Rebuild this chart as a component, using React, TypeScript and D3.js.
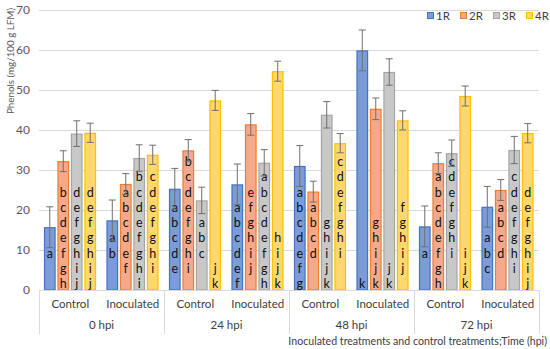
import React, { useEffect, useRef } from "react"
import * as d3 from "d3"

const groups = ["0 hpi", "24 hpi", "48 hpi", "72 hpi"]
const treatments = ["Control", "Inoculated"]
const series = ["1R", "2R", "3R", "4R"]
const yTicks = [0, 10, 20, 30, 40, 50, 60, 70]

// means, in category order 0C, 0I, 24C, 24I, 48C, 48I, 72C, 72I
const r1 = [15.7, 17.4, 25.3, 26.4, 31.0, 59.9, 15.9, 20.8]
const r2 = [32.2, 26.5, 34.9, 41.4, 24.6, 45.3, 31.7, 25.0]
const r3 = [39.1, 33.0, 22.4, 31.8, 43.8, 54.5, 34.2, 35.0]
const r4 = [39.3, 33.8, 47.4, 54.7, 36.7, 42.4, 48.5, 39.2]

// error bar half widths
const e1 = [5.1, 5.1, 5.1, 5.1, 5.1, 5.1, 5.1, 5.1]
const e2 = [2.6, 2.6, 2.7, 2.7, 2.6, 2.7, 2.6, 2.6]
const e3 = [3.2, 3.3, 3.3, 3.3, 3.3, 3.3, 3.3, 3.4]
const e4 = [2.4, 2.4, 2.5, 2.5, 2.4, 2.4, 2.5, 2.4]

// significance letters, one letter per line, a space is an empty line (labels sit on the base)
const l1 = ["a  ", "ab  ", "abcde ", "abcdef", "abcdefg", "k", "a  ", "abc "]
const l2 = ["bcdefgh", "abcdef ", "bcdefghi ", "efghij ", "abcd  ", "ghijk", "abcdefgh", "abcd  "]
const l3 = ["defghij", "bcdefghi", "abc  ", "abcdefgh", "ghijk", "jk", "cdefghi  ", "cdefghi "]
const l4 = ["defghij", "cdefghi ", "jk", "hijk", "cdefghi  ", "fghij ", "ijk", "defghij"]

const fills = ["#7b9cd7", "#f5a98a", "#c8c8c8", "#ffd76e"]
const strokes = ["#4472c4", "#ed7d31", "#a5a5a5", "#ffc000"]

const W = 550
const H = 349
const FONT = "Lato, 'Open Sans', sans-serif"

export default function App() {
    const ref = useRef<SVGSVGElement>(null)

    useEffect(() => {
        const svg = d3.select(ref.current)
        svg.selectAll("*").remove()

        const left = 39, right = 539, top = 10, bottom = 290
        const cats: string[] = []
        groups.forEach(g => treatments.forEach(t => cats.push(g + "|" + t)))

        const means = [r1, r2, r3, r4]
        const errs = [e1, e2, e3, e4]
        const labels = [l1, l2, l3, l4]

        const x0 = d3.scaleBand().domain(cats).range([left, right])
        const x1 = d3
            .scaleBand()
            .domain(series)
            .range([5, x0.bandwidth() - 5.5])
            .paddingInner(0.14)
        const y = d3.scaleLinear().domain([0, 70]).range([bottom, top])

        svg.append("rect").attr("width", W).attr("height", H).attr("fill", "#fff")

        // gridlines
        svg.append("g")
            .selectAll("line")
            .data(yTicks)
            .enter()
            .append("line")
            .attr("x1", left)
            .attr("x2", right)
            .attr("y1", d => Math.round(y(d)) + 0.5)
            .attr("y2", d => Math.round(y(d)) + 0.5)
            .attr("stroke", "#d9d9d9")

        svg.append("g")
            .selectAll("text")
            .data(yTicks)
            .enter()
            .append("text")
            .attr("x", 30)
            .attr("y", d => y(d))
            .attr("dy", "0.35em")
            .attr("text-anchor", "end")
            .attr("font-size", 12)
            .attr("fill", "#595959")
            .text(d => d)

        svg.append("text")
            .attr("transform", "translate(11,61) rotate(-90)")
            .attr("text-anchor", "middle")
            .attr("dy", "0.35em")
            .attr("font-size", 9.8)
            .attr("fill", "#595959")
            .text("Phenols (mg/100 g LFM)")

        // category axis separators
        const seps = groups.map(g => x0(g + "|Control") as number).concat([right])
        svg.append("g")
            .selectAll("line")
            .data(seps)
            .enter()
            .append("line")
            .attr("x1", d => Math.round(d) + 0.5)
            .attr("x2", d => Math.round(d) + 0.5)
            .attr("y1", bottom)
            .attr("y2", 334)
            .attr("stroke", "#d9d9d9")

        svg.append("g")
            .selectAll("text")
            .data(cats)
            .enter()
            .append("text")
            .attr("x", d => (x0(d) as number) + x0.bandwidth() / 2)
            .attr("y", 304)
            .attr("dy", "0.35em")
            .attr("text-anchor", "middle")
            .attr("font-size", 11.5)
            .attr("fill", "#404040")
            .text(d => d.split("|")[1])

        svg.append("g")
            .selectAll("text")
            .data(groups)
            .enter()
            .append("text")
            .attr("x", d => (x0(d + "|Control") as number) + x0.bandwidth())
            .attr("y", 325)
            .attr("dy", "0.35em")
            .attr("text-anchor", "middle")
            .attr("font-size", 11.5)
            .attr("fill", "#404040")
            .text(d => d)

        svg.append("text")
            .attr("x", 547)
            .attr("y", 341)
            .attr("dy", "0.35em")
            .attr("text-anchor", "end")
            .attr("font-size", 10.6)
            .attr("fill", "#404040")
            .text("Inoculated treatments and control treatments;Time (hpi)")

        // bars, error bars and letters
        series.forEach((s, si) => {
            const g = svg.append("g")
            const rows = cats.map((c, i) => ({ c, v: means[si][i], e: errs[si][i], l: labels[si][i] }))
            const bx = (d: any) => (x0(d.c) as number) + (x1(s) as number)
            const bw = x1.bandwidth()

            g.selectAll("rect")
                .data(rows)
                .enter()
                .append("rect")
                .attr("x", d => bx(d) + 0.5)
                .attr("y", d => y(d.v) + 0.5)
                .attr("width", bw - 1)
                .attr("height", d => y(0) - y(d.v) - 0.5)
                .attr("fill", fills[si])
                .attr("stroke", strokes[si])
                .attr("stroke-width", 1.2)

            rows.forEach(d => {
                const cx = bx(d) + bw / 2
                const chars = d.l.split("")
                chars.forEach((ch, k) => {
                    if (ch === " ") return
                    const fromBottom = chars.length - 1 - k
                    g.append("text")
                        .attr("x", cx)
                        .attr("y", 284 - fromBottom * 15.3)
                        .attr("dy", "0.35em")
                        .attr("text-anchor", "middle")
                        .attr("font-size", 12.5)
                        .attr("fill", "#111")
                        .text(ch)
                })
                const eb = g.append("g").attr("stroke", "#6f6f6f").attr("stroke-width", 1)
                eb.append("line")
                    .attr("x1", cx).attr("x2", cx)
                    .attr("y1", y(d.v + d.e)).attr("y2", y(d.v - d.e))
                eb.append("line")
                    .attr("x1", cx - 3.5).attr("x2", cx + 3.5)
                    .attr("y1", y(d.v + d.e)).attr("y2", y(d.v + d.e))
                eb.append("line")
                    .attr("x1", cx - 3.5).attr("x2", cx + 3.5)
                    .attr("y1", y(d.v - d.e)).attr("y2", y(d.v - d.e))
            })
        })

        // axis line on top of bars
        svg.append("line")
            .attr("x1", left).attr("x2", right)
            .attr("y1", bottom + 0.5).attr("y2", bottom + 0.5)
            .attr("stroke", "#d9d9d9")

        // legend
        const lg = svg.append("g")
        series.forEach((s, si) => {
            const lx = 427 + si * 33
            lg.append("rect")
                .attr("x", lx + 0.5).attr("y", 12.5)
                .attr("width", 6).attr("height", 6)
                .attr("fill", fills[si])
                .attr("stroke", strokes[si])
            lg.append("text")
                .attr("x", lx + 9)
                .attr("y", 16)
                .attr("dy", "0.35em")
                .attr("font-size", 11.5)
                .attr("fill", "#404040")
                .text(s)
        })
    }, [])

    return (
        <svg
            ref={ref}
            width={W}
            height={H}
            style={{ position: "absolute", left: 0, top: 0, fontFamily: FONT }}
        />
    )
}
